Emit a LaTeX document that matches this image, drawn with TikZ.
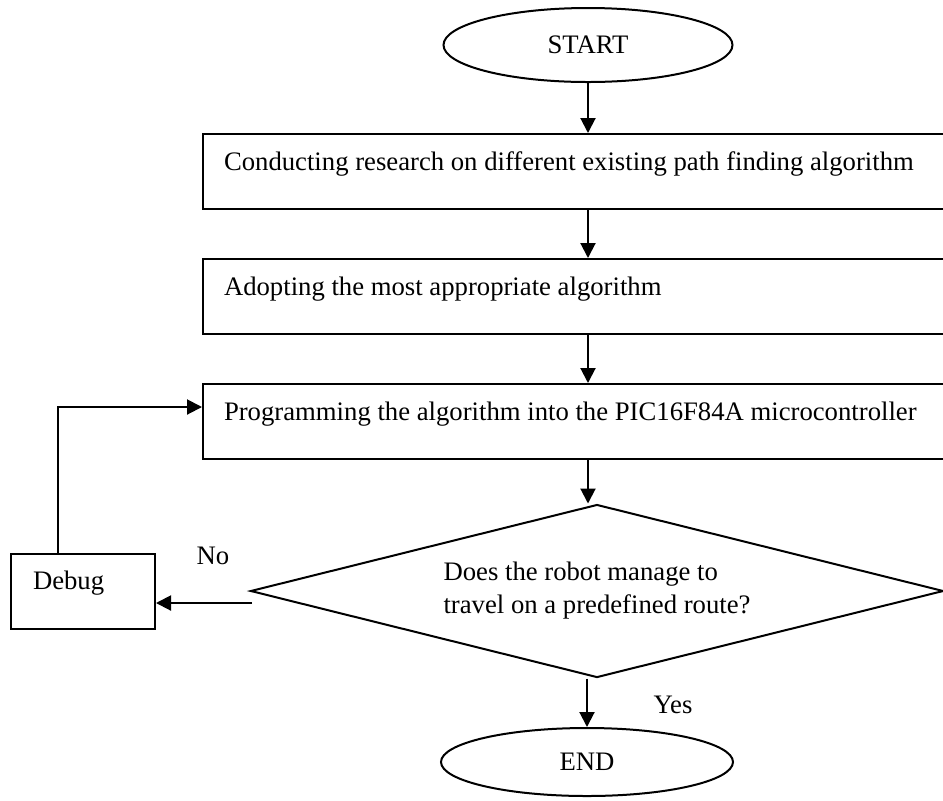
\documentclass[tikz,border=0pt]{standalone}
\usepackage{fontspec}
\setmainfont{Liberation Serif}
\usetikzlibrary{shapes.geometric,arrows.meta}
\begin{document}
\begin{tikzpicture}[x=0.5pt,y=-0.5pt,
  line width=1pt,
  every node/.style={font=\fontsize{13.35pt}{16.5pt}\selectfont},
  arr/.style={-{Triangle[length=7.5pt,width=7.5pt]}},
  term/.style={draw,ellipse,inner sep=0pt},
  stepbox/.style={draw,rectangle,anchor=north west,align=flush left,
    inner xsep=10.5pt,inner ysep=0pt,text width=358pt,
    text height=18pt,text depth=19.5pt},
  decision/.style={draw,diamond,aspect=4,inner sep=0pt,align=left,
    minimum width=346.5pt,minimum height=86.5pt},
  lbl/.style={inner sep=0pt}
]
\clip (0,0) rectangle (943,800);

% terminals
\node[term,minimum width=144.5pt,minimum height=37pt] (start) at (588,45) {START};
\node[term,minimum width=146pt,minimum height=34pt] (finish) at (587,762) {END};

% process steps
\node[stepbox] (research) at (202,133) {Conducting research on different existing path finding algorithm};
\node[stepbox] (adopt) at (202,258) {Adopting the most appropriate algorithm};
\node[stepbox] (program) at (202,383) {Programming the algorithm into the PIC16F84A microcontroller};

% test
\node[decision] (test) at (597,591) {Does the robot manage to\\travel on a predefined route?};

% debug step
\node[draw,rectangle,anchor=north west,align=flush left,inner xsep=11pt,inner ysep=0pt,
  text width=50pt,text height=17.5pt,text depth=20pt] (debug) at (10,553) {Debug};

% main flow
\draw[arr] (start.south) -- (start.south |- research.north);
\draw[arr] (start.south |- research.south) -- (start.south |- adopt.north);
\draw[arr] (start.south |- adopt.south) -- (start.south |- program.north);
\draw[arr] (start.south |- program.south) -- (start.south |- test.north);
\draw[arr] (test.south -| finish.north) -- (finish.north);

% failure branch and loop back
\coordinate (nofrom) at (252,603);
\draw[arr] (nofrom) -- (nofrom -| debug.east);
\coordinate (loop) at (58,407);
\draw[arr] (debug.north -| loop) -- (loop) -- (loop -| program.west);

% branch labels
\node[lbl] (nolabel) at (213,556) {No};
\node[lbl] (yeslabel) at (673,705) {Yes};
\end{tikzpicture}
\end{document}
